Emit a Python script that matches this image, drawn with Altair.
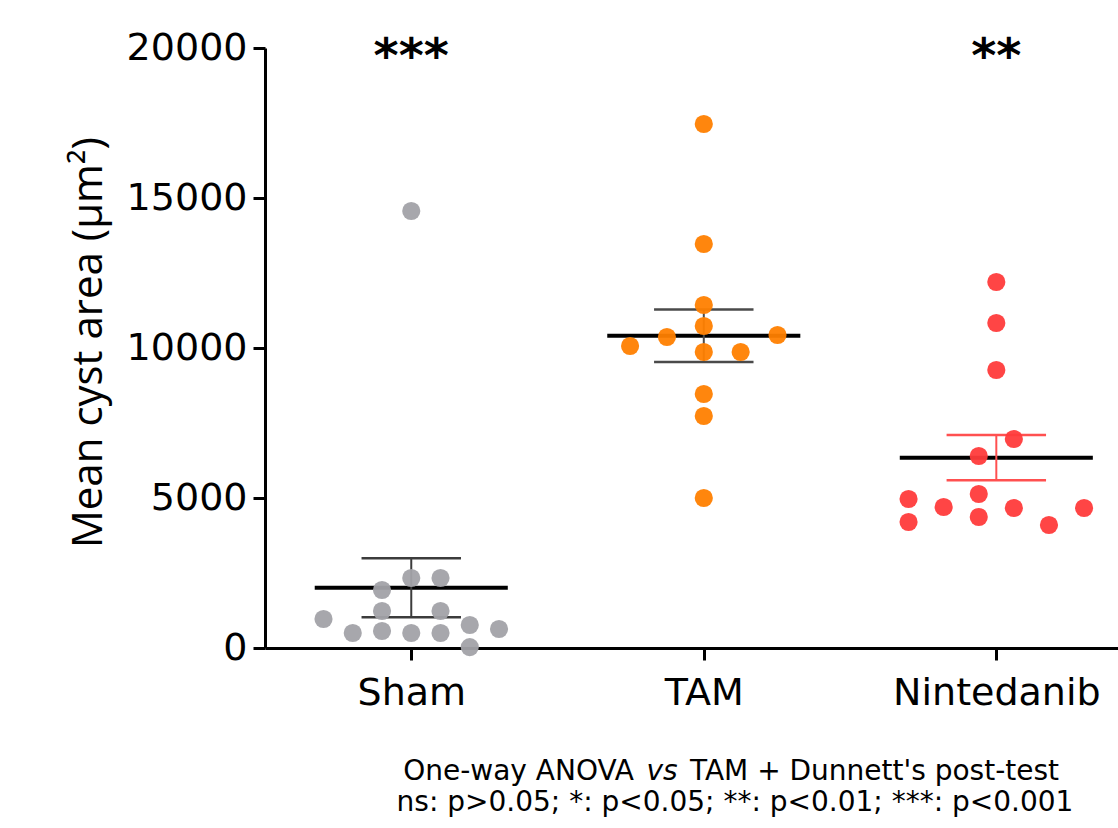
import altair as alt
import pandas as pd

groups = ["Sham", "TAM", "Nintedanib"]
point_colors = ["#a2a2a8", "#ff8000", "#ff3b3b"]
err_colors = ["#3c3c3c", "#4a4a4a", "#ff5050"]

sham_values = [1933, 2333, 2333, 1233, 1233, 967, 500, 567, 500, 500, 767, 633, 30, 14567]
sham_jitter = [-0.1, 0, 0.1, -0.1, 0.1, -0.3, -0.2, -0.1, 0, 0.1, 0.2, 0.3, 0.2, 0]

tam_values = [17467, 13467, 11433, 10733, 10367, 10067, 10433, 9867, 9867, 8467, 7733, 5000]
tam_jitter = [0, 0, 0, 0, -0.126, -0.252, 0.252, 0, 0.126, 0, 0, 0]

nint_values = [12200, 10833, 9267, 6967, 6400, 4967, 4200, 4700, 5133, 4367, 4667, 4100, 4667]
nint_jitter = [0, 0, 0, 0.06, -0.06, -0.3, -0.3, -0.18, -0.06, -0.06, 0.06, 0.18, 0.3]

stars = ["***", "", "**"]
y_ticks = [0, 5000, 10000, 15000, 20000]
y_title = "Mean cyst area (µm²)"
note_line1 = ["One-way ANOVA", "vs", "TAM + Dunnett's post-test"]
note_line2 = "ns: p>0.05; *: p<0.05; **: p<0.01; ***: p<0.001"

rows = []
for i, (vals, jit) in enumerate([(sham_values, sham_jitter), (tam_values, tam_jitter), (nint_values, nint_jitter)]):
    for v, j in zip(vals, jit):
        rows.append({"group": groups[i], "idx": i + 1, "jit": j, "value": v})
df = pd.DataFrame(rows)
star_df = pd.DataFrame({"group": groups, "idx": [1, 2, 3], "star": stars})

W, H = 853, 600
xscale = alt.Scale(domain=[0.5, 3.416], nice=False, zero=False)
yscale = alt.Scale(domain=[0, 20000], nice=False, zero=True)
xaxis = alt.Axis(values=[1, 2, 3], labelExpr=f"{groups}[datum.value - 1]", title=None,
                 labelPadding=14, labelFontSize=38, labelLimit=0)
yaxis = alt.Axis(values=y_ticks, format="d", title=y_title, titleX=-177, titleY=294,
                 titleAngle=-90, titleAlign="center", titleBaseline="middle",
                 titleFont="Open Sans", titleFontSize=42, titleFontWeight="normal",
                 titleColor="black", labelPadding=6, labelFontSize=38, labelLimit=0)
color = alt.Color("group:N", scale=alt.Scale(domain=groups, range=point_colors), legend=None)
ecolor = alt.Color("egroup:N", scale=alt.Scale(domain=groups, range=err_colors), legend=None)

base = alt.Chart(df)
stats = base.transform_aggregate(
    mean="mean(value)", sem="stderr(value)", groupby=["group", "idx"]
).transform_calculate(
    egroup="datum.group",
    lo="datum.mean - datum.sem", hi="datum.mean + datum.sem",
    ml="datum.idx - 0.33", mr="datum.idx + 0.33",
    cl="datum.idx - 0.17", cr="datum.idx + 0.17",
)

mean_line = stats.mark_rule(color="black", strokeWidth=4).encode(
    x=alt.X("ml:Q", scale=xscale, axis=xaxis), x2="mr:Q",
    y=alt.Y("mean:Q", scale=yscale, axis=yaxis),
)
err_v = stats.mark_rule(strokeWidth=2).encode(
    x=alt.X("idx:Q", scale=xscale, axis=xaxis),
    y=alt.Y("lo:Q", scale=yscale, axis=yaxis), y2="hi:Q", color=ecolor,
)
cap_hi = stats.mark_rule(strokeWidth=2.5).encode(
    x=alt.X("cl:Q", scale=xscale, axis=xaxis), x2="cr:Q",
    y=alt.Y("hi:Q", scale=yscale, axis=yaxis), color=ecolor,
)
cap_lo = stats.mark_rule(strokeWidth=2.5).encode(
    x=alt.X("cl:Q", scale=xscale, axis=xaxis), x2="cr:Q",
    y=alt.Y("lo:Q", scale=yscale, axis=yaxis), color=ecolor,
)
points = base.transform_calculate(xpos="datum.idx + datum.jit").mark_circle(
    size=330, opacity=0.95
).encode(
    x=alt.X("xpos:Q", scale=xscale, axis=xaxis),
    y=alt.Y("value:Q", scale=yscale, axis=yaxis),
    color=color,
)
star_text = alt.Chart(star_df).mark_text(
    font="DejaVu Sans", fontSize=48, fontWeight="bold", baseline="middle", align="center",
    color="black", dy=10
).encode(
    x=alt.X("idx:Q", scale=xscale, axis=xaxis),
    y=alt.value(0),
    text="star:N",
)

note_font = "DejaVu Sans"
note_size = 28
n1a = alt.Chart(pd.DataFrame({"t": [note_line1[0]]})).mark_text(
    font=note_font, fontSize=note_size, align="right", baseline="middle", color="black"
).encode(x=alt.value(369), y=alt.value(724), text="t:N")
n1b = alt.Chart(pd.DataFrame({"t": [note_line1[1]]})).mark_text(
    font=note_font, fontSize=note_size, fontStyle="italic", align="center", baseline="middle", color="black"
).encode(x=alt.value(397), y=alt.value(724), text="t:N")
n1c = alt.Chart(pd.DataFrame({"t": [note_line1[2]]})).mark_text(
    font=note_font, fontSize=note_size, align="left", baseline="middle", color="black"
).encode(x=alt.value(425), y=alt.value(724), text="t:N")
n2 = alt.Chart(pd.DataFrame({"t": [note_line2]})).mark_text(
    font=note_font, fontSize=note_size, align="center", baseline="middle", color="black"
).encode(x=alt.value(470), y=alt.value(755), text="t:N")

chart = alt.layer(mean_line, err_v, cap_hi, cap_lo, points, star_text, n1a, n1b, n1c, n2).resolve_scale(
    color="independent"
).properties(
    width=W, height=H,
    autosize=alt.AutoSizeParams(type="none"),
    padding={"left": 265, "top": 48, "right": 0, "bottom": 175},
).configure_view(stroke=None).configure_axis(
    domainColor="black", domainWidth=3, tickColor="black", tickWidth=3, tickSize=12,
    labelColor="black", labelFont="DejaVu Sans", grid=False,
)

chart.save("out.html", embed_options={"renderer": "svg", "actions": False})
